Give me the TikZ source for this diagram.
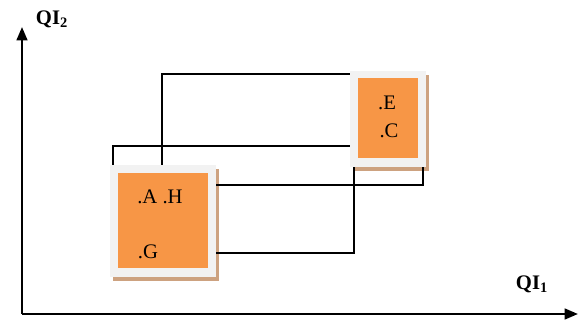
\documentclass[tikz,border=0pt]{standalone}
\usepackage{fontspec}
\setmainfont{Liberation Serif}
\usetikzlibrary{arrows.meta}
\usetikzlibrary{shadows}
\definecolor{boxorange}{RGB}{247,150,70}
\definecolor{framegray}{RGB}{242,242,242}
\definecolor{shadowtan}{RGB}{205,162,128}

\begin{document}
\begin{tikzpicture}[x=0.75pt, y=-0.75pt, line width=1.5pt,
    frame/.style = {fill=framegray, inner sep=0pt, outer sep=0pt,
        drop shadow={shadow xshift=2.25pt, shadow yshift=-3pt, fill=shadowtan, opacity=1}},
    core/.style = {fill=boxorange, inner sep=0pt, outer sep=0pt},
    lbl/.style = {font=\fontsize{15.5}{18}\selectfont, inner sep=0pt},
    axis/.style = {-{Triangle[length=10pt, width=8pt]}, line width=1.8pt}]
    \useasboundingbox (0,0) rectangle (581,320);
    % Nodes

    \coordinate (o) at (22,314);
    \coordinate (ytip) at (22,27);
    \coordinate (xtip) at (578,314);

    \node[lbl] (qi2) at (52,19) {\textbf{QI\textsubscript{2}}};
    \node[lbl] (qi1) at (532,284) {\textbf{QI\textsubscript{1}}};

    \node[frame, minimum width=79.5pt, minimum height=84pt] (boxA) at (163,221) {};
    \node[core, minimum width=67.5pt, minimum height=71.25pt] (coreA) at (163,220.5) {};
    \node[lbl] (ah) at (160,197) {.A .H};
    \node[lbl] (g) at (148,252) {.G};

    \node[frame, minimum width=57pt, minimum height=72pt] (boxE) at (388,119) {};
    \node[core, minimum width=45pt, minimum height=60pt] (coreE) at (388,118) {};
    \node[lbl] (e) at (387,103) {.E};
    \node[lbl] (c) at (389,131) {.C};

    % Edges

    \draw[axis] (o) -- (ytip);
    \draw[axis] (o) -- (xtip);

    \draw (boxA.north -| 162,0) |- (boxE.west |- 0,74);
    \draw (boxA.north -| 113,0) |- (boxE.west |- 0,146);
    \draw (boxA.east |- 0,185) -| (boxE.south -| 423,0);
    \draw (boxA.east |- 0,253) -| (boxE.south -| 354,0);

\end{tikzpicture}
\end{document}
